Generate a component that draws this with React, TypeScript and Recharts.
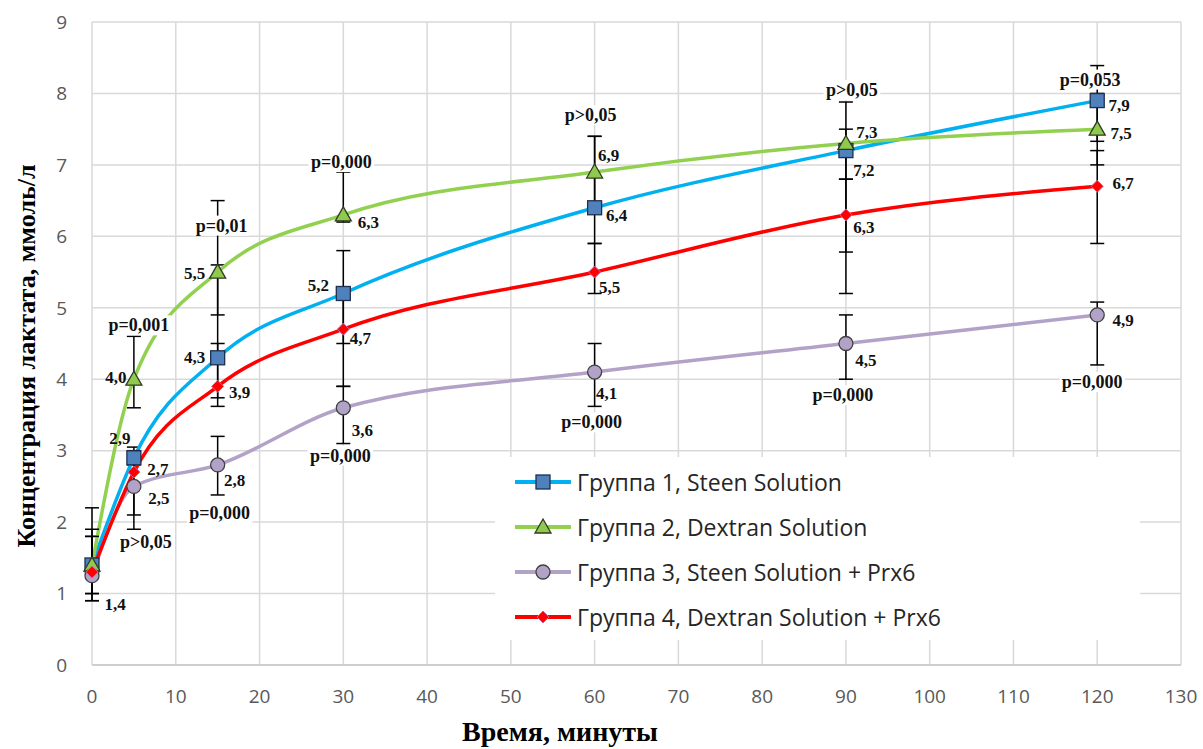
import React from 'react';
import { ComposedChart, Line, XAxis, YAxis, CartesianGrid, ErrorBar, Legend } from 'recharts';

// time points, minutes
const times = [0, 5, 15, 30, 60, 90, 120];

// lactate, mmol/l
const group1 = [1.4, 2.9, 4.3, 5.2, 6.4, 7.2, 7.9];
const group2 = [1.4, 4.0, 5.5, 6.3, 6.9, 7.3, 7.5];
const group3 = [1.25, 2.5, 2.8, 3.6, 4.1, 4.5, 4.9];
const group4 = [1.3, 2.7, 3.9, 4.7, 5.5, 6.3, 6.7];

// error bars as [down, up]
const err1 = [[0.5, 0.8], [0.1, 0.15], [0.56, 1.3], [0.7, 0.6], [0.5, 1.0], [1.42, 0.68], [0.57, 0.49]];
const err2 = [[0.4, 0.4], [0.4, 0.6], [0.6, 1.0], [0.1, 0.6], [0.5, 0.5], [0.5, 0.2], [0.5, 0.5]];
const err3 = [[0.35, 0.55], [0.4, 0.35], [0.42, 0.4], [0.5, 0.3], [0.48, 0.4], [0.5, 0.4], [0.7, 0.18]];
const err4 = [[0.3, 0.6], [0.8, 0.3], [0.28, 0.6], [0.8, 0.58], [0.3, 0.4], [1.1, 0.5], [0.8, 0.5]];

const pTop = ['', 'p=0,001', 'p=0,01', 'p=0,000', 'p>0,05', 'p>0,05', 'p=0,053'];
const pBottom = ['', 'p>0,05', 'p=0,000', 'p=0,000', 'p=0,000', 'p=0,000', 'p=0,000'];

const xTicks = [0, 10, 20, 30, 40, 50, 60, 70, 80, 90, 100, 110, 120, 130];
const yTicks = [0, 1, 2, 3, 4, 5, 6, 7, 8, 9];

const names = [
  'Группа 1, Steen Solution',
  'Группа 2, Dextran Solution',
  'Группа 3, Steen Solution + Prx6',
  'Группа 4, Dextran Solution + Prx6',
];

const series = [group1, group2, group3, group4];
const errs = [err1, err2, err3, err4];

const data = times.map((t, i) => {
  const row: any = { t, pTop: pTop[i], pBottom: pBottom[i] };
  let hi = -Infinity;
  let lo = Infinity;
  series.forEach((s, k) => {
    row['g' + (k + 1)] = s[i];
    row['e' + (k + 1)] = errs[k][i];
    hi = Math.max(hi, s[i] + errs[k][i][1]);
    lo = Math.min(lo, s[i] - errs[k][i][0]);
  });
  row.hi = hi;
  row.lo = lo;
  return row;
});

// label placement (pixel offsets from the point), null = no label
const labelOffsets: (number[] | null)[][] = [
  [[23, 39], [-14, -20], [-23, -1], [-25, -8], [22, 7], [18, 19], [22, 4]],
  [null, [-18, -2], [-23, 1], [25, 7], [14, -17], [21, -11], [24, 4]],
  [null, [25, 12], [17, 15], [19, 22], [12, 21], [20, 16], [26, 5]],
  [null, [24, -3], [22, 6], [17, 9], [15, 15], [18, 12], [26, -3]],
];
const pTopOffsets = [[0, 0], [5, -11], [4, 25], [-2, -10], [-4, -21], [6, -12], [-7, 14]];
const pBottomOffsets = [[0, 0], [12, 13], [2, 18], [-3, 12], [-3, 16], [-3, 16], [-5, 17]];

const COLORS = ['#00B0F0', '#92D050', '#B3A2C7', '#FF0000'];
const SERIF = '"Times New Roman", "Liberation Serif", serif';
const SANS = '"Open Sans", "Noto Sans", sans-serif';

const fmt = (v: number) => v.toFixed(1).replace('.', ',');

const Marker = ({ kind, cx, cy }: { kind: number; cx: number; cy: number }) => {
  if (kind === 0) {
    return <rect x={cx - 7} y={cy - 7} width={14} height={14} fill="#4F81BD" stroke="#1F2F4F" strokeWidth={1.3} />;
  }
  if (kind === 1) {
    return (
      <polygon
        points={`${cx},${cy - 8} ${cx + 8},${cy + 6} ${cx - 8},${cy + 6}`}
        fill="#8FCA4F"
        stroke="#2E3B1F"
        strokeWidth={1.3}
      />
    );
  }
  if (kind === 2) {
    return <circle cx={cx} cy={cy} r={7} fill="#B3A2C7" stroke="#404040" strokeWidth={1.3} />;
  }
  return (
    <polygon
      points={`${cx},${cy - 6} ${cx + 6},${cy} ${cx},${cy + 6} ${cx - 6},${cy}`}
      fill="#FF0000"
      stroke="#D060A0"
      strokeWidth={1}
    />
  );
};

const makeDot = (k: number) => (props: any) => {
  const { cx, cy, index, value } = props;
  const off = labelOffsets[k][index];
  return (
    <g key={`dot-${k}-${index}`}>
      <Marker kind={k} cx={cx} cy={cy} />
      {off && (
        <text
          x={cx + off[0]}
          y={cy + off[1] + 6}
          textAnchor="middle"
          fontFamily={SERIF}
          fontWeight="bold"
          fontSize={17}
          fill="#111"
        >
          {fmt(value)}
        </text>
      )}
    </g>
  );
};

const makePDot = (key: 'pTop' | 'pBottom', offsets: number[][]) => (props: any) => {
  const { cx, cy, index, payload } = props;
  const txt = payload[key];
  if (!txt) return <g key={`${key}-${index}`} />;
  const x = cx + offsets[index][0];
  const y = cy + offsets[index][1];
  const w = txt.length * 8.8 + 4;
  return (
    <g key={`${key}-${index}`}>
      <rect x={x - w / 2} y={y - 10} width={w} height={20} fill="#fff" />
      <text x={x} y={y + 6} textAnchor="middle" fontFamily={SERIF} fontWeight="bold" fontSize={18} fill="#111">
        {txt}
      </text>
    </g>
  );
};

const LegendBox = () => (
  <div style={{ width: 645, height: 183, background: '#fff', position: 'relative' }}>
    {names.map((n, k) => (
      <div key={n} style={{ position: 'absolute', left: 20, top: 25 + k * 45 - 16, height: 32, display: 'flex', alignItems: 'center' }}>
        <svg width={56} height={32}>
          <line x1={0} y1={16} x2={55} y2={16} stroke={COLORS[k]} strokeWidth={4} strokeLinecap="round" />
          <Marker kind={k} cx={28} cy={16} />
        </svg>
        <span style={{ marginLeft: 6, fontFamily: SANS, fontSize: 23, color: '#262626', whiteSpace: 'nowrap' }}>{n}</span>
      </div>
    ))}
  </div>
);

const YTitle = () => (
  <text
    x={26}
    y={356}
    transform="rotate(-90 26 356)"
    textAnchor="middle"
    dominantBaseline="central"
    fontFamily={SERIF}
    fontWeight="bold"
    fontSize={26}
    fill="#000"
  >
    Концентрация лактата, ммоль/л
  </text>
);

const XTitle = () => (
  <text x={560} y={741} textAnchor="middle" fontFamily={SERIF} fontWeight="bold" fontSize={28} fill="#000">
    Время, минуты
  </text>
);

export default function App() {
  return (
    <div style={{ position: 'absolute', left: 0, top: 0, width: 1203, height: 749, background: '#fff' }}>
      <ComposedChart width={1203} height={749} data={data} margin={{ top: 22, right: 22, bottom: 0, left: 0 }}>
        <CartesianGrid stroke="#d9d9d9" strokeWidth={1.5} />
        <XAxis
          dataKey="t"
          type="number"
          domain={[0, 130]}
          ticks={xTicks}
          height={84}
          tickSize={0}
          tickMargin={25}
          tickLine={false}
          axisLine={{ stroke: '#c8c8c8', strokeWidth: 1.5 }}
          tick={{ fill: '#595959', fontSize: 19, fontFamily: SANS }}
          label={{ content: () => <XTitle /> }}
        />
        <YAxis
          type="number"
          domain={[0, 9]}
          ticks={yTicks}
          width={92}
          tickSize={0}
          tickMargin={25}
          tickLine={false}
          axisLine={false}
          tick={{ fill: '#595959', fontSize: 19, fontFamily: SANS }}
          label={{ content: () => <YTitle /> }}
        />
        {series.map((_, k) => (
          <Line
            key={k}
            type="monotone"
            dataKey={'g' + (k + 1)}
            name={names[k]}
            stroke={COLORS[k]}
            strokeWidth={3.5}
            dot={makeDot(k)}
            activeDot={false}
            isAnimationActive={false}
          >
            <ErrorBar dataKey={'e' + (k + 1)} direction="y" width={7} stroke="#000" strokeWidth={1.5} />
          </Line>
        ))}
        <Line
          dataKey="hi"
          stroke="none"
          legendType="none"
          dot={makePDot('pTop', pTopOffsets)}
          activeDot={false}
          isAnimationActive={false}
        />
        <Line
          dataKey="lo"
          stroke="none"
          legendType="none"
          dot={makePDot('pBottom', pBottomOffsets)}
          activeDot={false}
          isAnimationActive={false}
        />
        <Legend
          layout="vertical"
          align="center"
          verticalAlign="middle"
          wrapperStyle={{ left: 495, top: 457, width: 645, height: 183 }}
          content={() => <LegendBox />}
        />
      </ComposedChart>
    </div>
  );
}
